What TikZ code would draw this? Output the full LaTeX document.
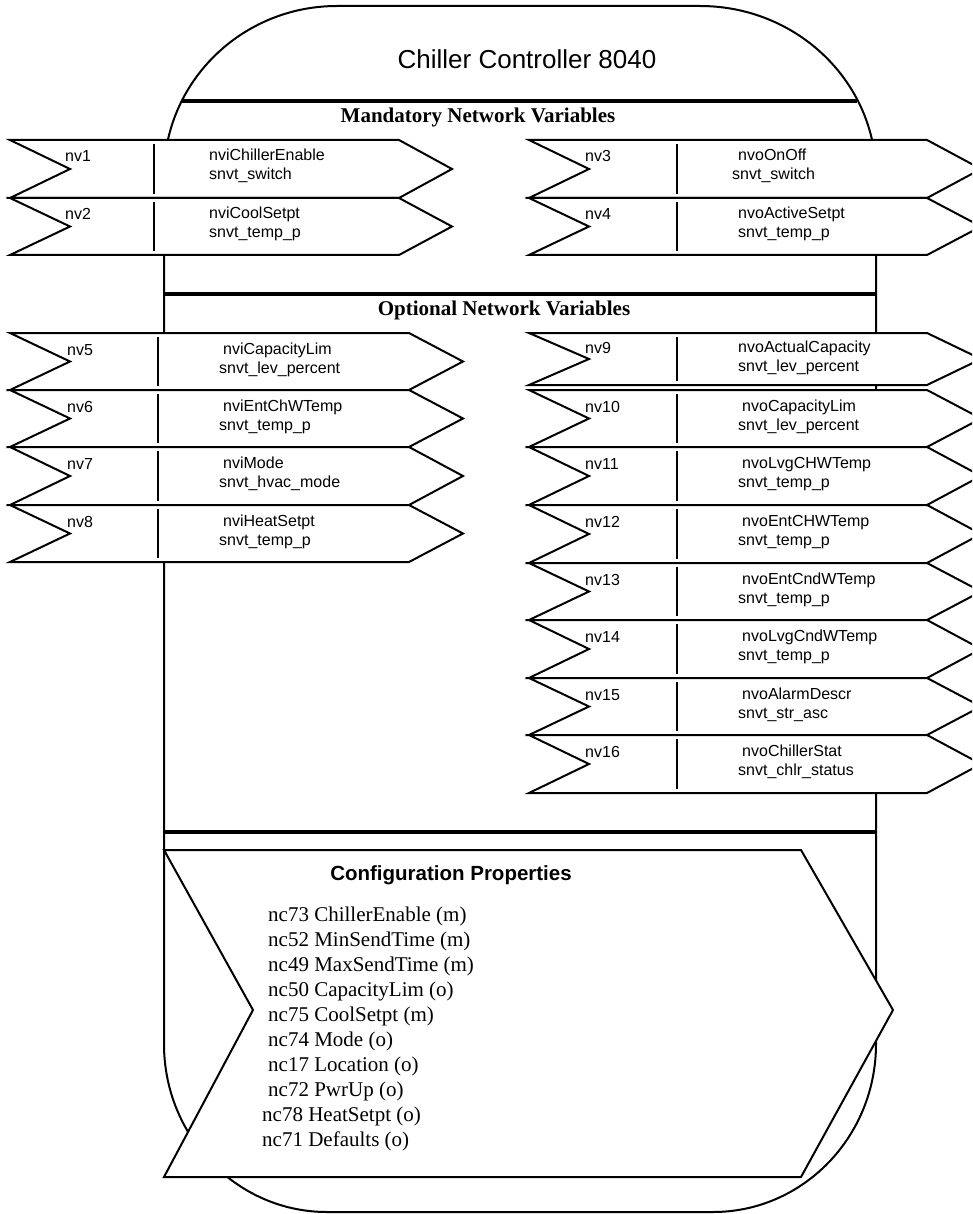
\documentclass[tikz,border=0pt]{standalone}
\usepackage{fontspec}
\setmainfont{Liberation Serif}
\setsansfont{Liberation Sans}
\tikzset{
  bodyline/.style={line width=2pt},
  sepline/.style={line width=4.5pt},
  rowshape/.style={line width=2pt, fill=white, line join=miter},
  divline/.style={line width=2.5pt},
  rowtxt/.style={font=\fontsize{16}{19}\selectfont\sffamily, anchor=base west, inner sep=0pt},
  titletxt/.style={font=\fontsize{26}{30}\selectfont\sffamily, anchor=base, inner sep=0pt},
  headtxt/.style={font=\fontsize{21}{25}\selectfont\rmfamily\bfseries, anchor=base, inner sep=0pt},
  cfghead/.style={font=\fontsize{20.5}{24}\selectfont\sffamily\bfseries, anchor=base, inner sep=0pt},
  cfgitem/.style={font=\fontsize{21}{25}\selectfont\rmfamily, anchor=base west, inner sep=0pt}
}
\newcommand\nvrow[6]{% #1 left, #2 flat end, #3 tip, #4 divider x, #5 top, #6 bottom
  \pgfmathsetmacro\rowmidy{(#5+#6)/2}
  \draw[rowshape] (#1,#5) -- (#2,#5) -- (#3,\rowmidy) -- (#2,#6) -- (#1,#6) -- ({#1+60},\rowmidy) -- cycle;
  \draw[divline] (#4,{#5+4}) -- (#4,{#6-4});
}
\newcommand\nvtext[8]{% #1 id, #2 label x, #3 top, #4 label, #5 name x, #6 name, #7 type x, #8 type
  \node[rowtxt] (#1l) at (#2,{#3+22}) {#4};
  \node[rowtxt] (#1n) at (#5,{#3+21}) {#6};
  \node[rowtxt] (#1t) at (#7,{#3+40}) {#8};
}
\begin{document}
\begin{tikzpicture}[x=1pt,y=-1pt]
\useasboundingbox (0,0) rectangle (972,1214);
\clip (0,0) rectangle (972,1214);
% body outline
\draw[bodyline] (164,176) .. controls (164,82.1) and (241.5,6) .. (337,6)
  -- (700,6) .. controls (797.2,6) and (876,82.1) .. (876,176)
  -- (876,1044) .. controls (876,1136.8) and (803,1212) .. (713,1212)
  -- (327,1212) .. controls (237,1212) and (164,1136.8) .. (164,1044) -- cycle;
% separators
\draw[sepline] (182,101) -- (857,101);
\draw[sepline] (164,294) -- (876,294);
\draw[sepline] (164,832) -- (876,832);
% headings
\node[titletxt] (title) at (527,69) {Chiller Controller 8040};
\node[headtxt] (mandhead) at (478,123) {Mandatory Network Variables};
\node[headtxt] (opthead) at (504,316) {Optional Network Variables};
% mandatory rows
\nvrow{10}{399}{452}{154}{140}{198}
\nvrow{10}{399}{452}{154}{198}{255}
\nvrow{529}{927}{981}{677}{140}{198}
\nvrow{529}{927}{981}{677}{198}{255}
\nvtext{nv1}{65}{140}{nv1}{209}{nviChillerEnable}{209}{snvt\_switch}
\nvtext{nv2}{65}{198}{nv2}{209}{nviCoolSetpt}{209}{snvt\_temp\_p}
\nvtext{nv3}{585}{140}{nv3}{738}{nvoOnOff}{732}{snvt\_switch}
\nvtext{nv4}{585}{198}{nv4}{738}{nvoActiveSetpt}{738}{snvt\_temp\_p}
% optional rows left
\nvrow{10}{409}{463}{158}{333}{390}
\nvrow{10}{409}{463}{158}{390}{447}
\nvrow{10}{409}{463}{158}{447}{505}
\nvrow{10}{409}{463}{158}{505}{562}
\nvtext{nv5}{67}{333}{nv5}{223}{nviCapacityLim}{219}{snvt\_lev\_percent}
\nvtext{nv6}{67}{390}{nv6}{223}{nviEntChWTemp}{219}{snvt\_temp\_p}
\nvtext{nv7}{67}{447}{nv7}{223}{nviMode}{219}{snvt\_hvac\_mode}
\nvtext{nv8}{67}{505}{nv8}{223}{nviHeatSetpt}{219}{snvt\_temp\_p}
% optional rows right
\nvrow{529}{927}{981}{677}{333}{385}
\nvrow{529}{927}{981}{677}{390}{447}
\nvrow{529}{927}{981}{677}{447}{505}
\nvrow{529}{927}{981}{677}{505}{563}
\nvrow{529}{927}{981}{677}{563}{620}
\nvrow{529}{927}{981}{677}{620}{678}
\nvrow{529}{927}{981}{677}{678}{735}
\nvrow{529}{927}{981}{677}{735}{793}
\nvtext{nv9}{585}{331}{nv9}{738}{nvoActualCapacity}{738}{snvt\_lev\_percent}
\nvtext{nv10}{585}{390}{nv10}{742}{nvoCapacityLim}{738}{snvt\_lev\_percent}
\nvtext{nv11}{585}{447}{nv11}{742}{nvoLvgCHWTemp}{738}{snvt\_temp\_p}
\nvtext{nv12}{585}{505}{nv12}{742}{nvoEntCHWTemp}{738}{snvt\_temp\_p}
\nvtext{nv13}{585}{563}{nv13}{742}{nvoEntCndWTemp}{738}{snvt\_temp\_p}
\nvtext{nv14}{585}{620}{nv14}{742}{nvoLvgCndWTemp}{738}{snvt\_temp\_p}
\nvtext{nv15}{585}{678}{nv15}{742}{nvoAlarmDescr}{738}{snvt\_str\_asc}
\nvtext{nv16}{585}{735}{nv16}{742}{nvoChillerStat}{738}{snvt\_chlr\_status}
% configuration properties
\draw[rowshape] (164,850) -- (801,850) -- (893,1010) -- (801,1177) -- (164,1177) -- (253,1010) -- cycle;
\node[cfghead] (cfgtitle) at (451,880) {Configuration Properties};
\node[cfgitem] (nc73) at (268,921) {nc73 ChillerEnable (m)};
\node[cfgitem] (nc52) at (268,946) {nc52 MinSendTime (m)};
\node[cfgitem] (nc49) at (268,971) {nc49 MaxSendTime (m)};
\node[cfgitem] (nc50) at (268,996) {nc50 CapacityLim (o)};
\node[cfgitem] (nc75) at (268,1021) {nc75 CoolSetpt (m)};
\node[cfgitem] (nc74) at (268,1046) {nc74 Mode (o)};
\node[cfgitem] (nc17) at (268,1071) {nc17 Location (o)};
\node[cfgitem] (nc72) at (268,1096) {nc72 PwrUp (o)};
\node[cfgitem] (nc78) at (262,1121) {nc78 HeatSetpt (o)};
\node[cfgitem] (nc71) at (262,1146) {nc71 Defaults (o)};
\end{tikzpicture}
\end{document}
